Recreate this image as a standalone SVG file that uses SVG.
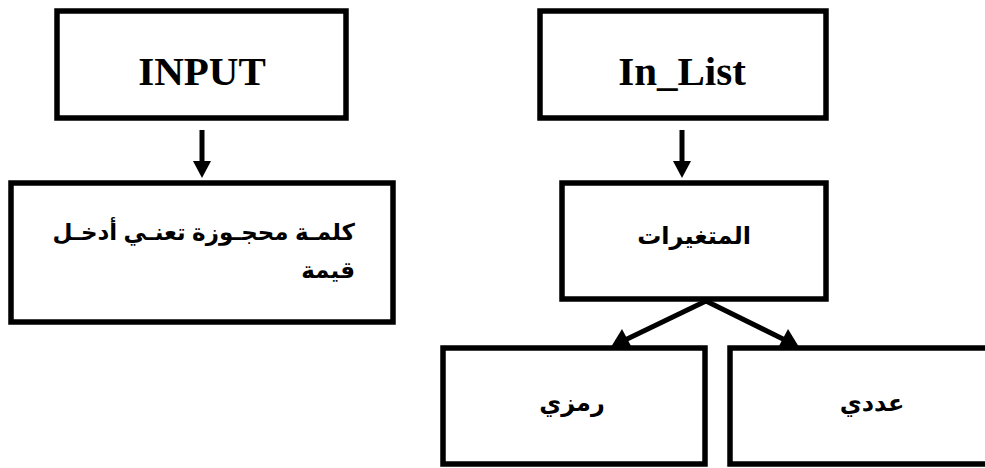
<svg xmlns="http://www.w3.org/2000/svg" width="985" height="468" viewBox="0 0 985 468">
  <style>
    .box { fill: #ffffff; stroke: #000000; stroke-width: 5.5; }
    .lat { font-family: "Liberation Serif", "Times New Roman", serif; font-weight: bold; font-size: 41px; fill: #000; text-anchor: middle; }
    .ar { font-family: "Liberation Sans", "DejaVu Sans", "Noto Sans", sans-serif; font-weight: bold; font-size: 24px; fill: #000; }
    .mid { text-anchor: middle; }
    .end { text-anchor: end; }
    .wire { stroke: #000000; stroke-width: 5; fill: none; }
    .head { fill: #000000; stroke: none; }
  </style>

  <rect width="985" height="468" fill="#ffffff"/>

  <g id="node-input">
    <rect class="box" x="57" y="11" width="289" height="107"/>
    <text class="lat" x="202" y="85">INPUT</text>
  </g>

  <g id="node-input-desc">
    <rect class="box" x="11" y="183" width="382" height="139"/>
    <text class="ar end" x="355" y="240" style="font-size:23px">كلمـة محجـوزة تعنـي أدخـل</text>
    <text class="ar end" x="355" y="278" style="font-size:23px">قيمة</text>
  </g>

  <g id="node-inlist">
    <rect class="box" x="540" y="11" width="286" height="107"/>
    <text class="lat" x="682" y="85">In_List</text>
  </g>

  <g id="node-variables">
    <rect class="box" x="562" y="183" width="264" height="116"/>
    <text class="ar mid" x="694" y="244">المتغيرات</text>
  </g>

  <g id="node-symbolic">
    <rect class="box" x="443" y="348" width="262" height="116"/>
    <text class="ar mid" x="572" y="411">رمزي</text>
  </g>

  <g id="node-numeric">
    <rect class="box" x="730" y="348" width="300" height="116"/>
    <text class="ar mid" x="872" y="411">عددي</text>
  </g>

  <g id="connectors">
    <!-- INPUT down to its description -->
    <line class="wire" x1="202" y1="130" x2="202" y2="163"/>
    <polygon class="head" points="193,161 211,161 202,178"/>
    <!-- In_List down to variables -->
    <line class="wire" x1="682" y1="130" x2="682" y2="163"/>
    <polygon class="head" points="673,161 691,161 682,178"/>
    <!-- variables branching to the two kinds -->
    <line class="wire" x1="706" y1="301" x2="625" y2="340"/>
    <polygon class="head" points="611,347 622,329 631,346"/>
    <line class="wire" x1="706" y1="301" x2="785" y2="340"/>
    <polygon class="head" points="799,347 788,329 779,346"/>
  </g>
</svg>
